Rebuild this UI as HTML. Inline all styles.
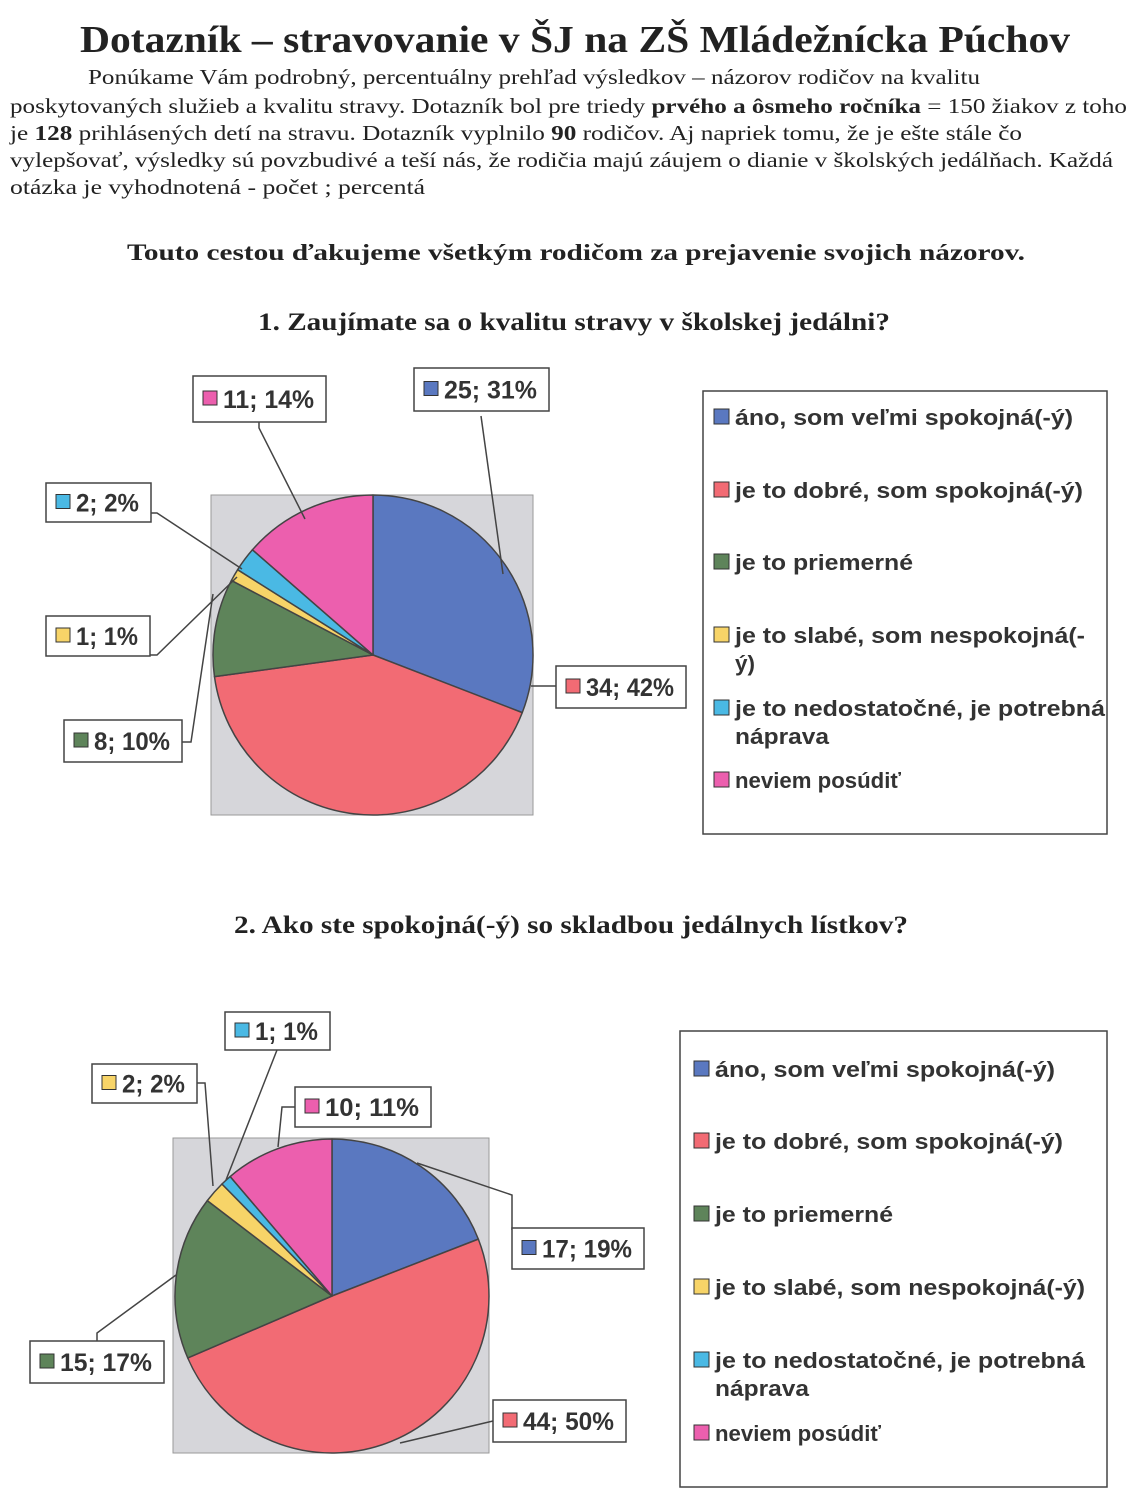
<!DOCTYPE html>
<html><head><meta charset="utf-8"><style>
html,body{margin:0;padding:0;background:#fff}
svg{display:block}
.ser{font-family:"Liberation Serif",serif;fill:#222}
.san{font-family:"Liberation Sans",sans-serif;font-weight:bold;fill:#333}
</style></head><body>
<svg id="s" width="1136" height="1504" viewBox="0 0 1136 1504" xmlns="http://www.w3.org/2000/svg">
<rect width="1136" height="1504" fill="#fff"/>
<text class="ser" x="80" y="52" font-size="38" font-weight="bold" textLength="990" lengthAdjust="spacingAndGlyphs">Dotazník – stravovanie v ŠJ na ZŠ Mládežnícka Púchov</text>
<g class="ser" font-size="21">
<text x="88" y="84" textLength="892" lengthAdjust="spacingAndGlyphs">Ponúkame Vám podrobný, percentuálny prehľad výsledkov – názorov rodičov na kvalitu</text>
<text x="10" y="113" textLength="1117" lengthAdjust="spacingAndGlyphs">poskytovaných služieb a kvalitu stravy. Dotazník bol pre triedy <tspan font-weight="bold">prvého a ôsmeho ročníka</tspan> = 150 žiakov z toho</text>
<text x="10" y="140" textLength="1012" lengthAdjust="spacingAndGlyphs">je <tspan font-weight="bold">128</tspan> prihlásených detí na stravu. Dotazník vyplnilo <tspan font-weight="bold">90</tspan> rodičov. Aj napriek tomu, že je ešte stále čo</text>
<text x="10" y="167" textLength="1103" lengthAdjust="spacingAndGlyphs">vylepšovať, výsledky sú povzbudivé a teší nás, že rodičia majú záujem o dianie v školských jedálňach. Každá</text>
<text x="10" y="194" textLength="415" lengthAdjust="spacingAndGlyphs">otázka je vyhodnotená -  počet ; percentá</text>
</g>
<text class="ser" x="127" y="260" font-size="23" font-weight="bold" textLength="898" lengthAdjust="spacingAndGlyphs">Touto cestou ďakujeme všetkým rodičom za prejavenie svojich názorov.</text>
<text class="ser" x="258" y="330" font-size="25" font-weight="bold" textLength="632" lengthAdjust="spacingAndGlyphs">1. Zaujímate sa o kvalitu stravy v školskej jedálni?</text>
<text class="ser" x="234" y="933" font-size="25" font-weight="bold" textLength="674" lengthAdjust="spacingAndGlyphs">2. Ako ste spokojná(-ý) so skladbou jedálnych lístkov?</text>
<g id="g"></g>
</svg>
<script>
var NS="http://www.w3.org/2000/svg",g=document.getElementById('g');
function el(t,a,txt){var e=document.createElementNS(NS,t);for(var k in a)e.setAttribute(k,a[k]);if(txt!=null)e.textContent=txt;g.appendChild(e);return e;}
var C=['#5a78c0','#f26b74','#5e845a','#f7d468','#4ab9e4','#ec5fae'];
function pie(cx,cy,r,vals){var tot=vals.reduce(function(a,b){return a+b},0),a=-Math.PI/2;
vals.forEach(function(v,i){var b=a+v/tot*2*Math.PI;var x1=cx+r*Math.cos(a),y1=cy+r*Math.sin(a),x2=cx+r*Math.cos(b),y2=cy+r*Math.sin(b);
el('path',{d:'M'+cx+','+cy+'L'+x1+','+y1+'A'+r+','+r+' 0 '+((b-a)>Math.PI?1:0)+' 1 '+x2+','+y2+'Z',fill:C[i],stroke:'#444','stroke-width':1.5,'stroke-linejoin':'round'});a=b;});}
function lab(x,y,w,h,ci,t){el('rect',{x:x,y:y,width:w,height:h,fill:'#fff',stroke:'#444','stroke-width':1.5});
el('rect',{x:x+10,y:y+h/2-8,width:14,height:14,fill:C[ci],stroke:'#333','stroke-width':1});
var tt=el('text',{x:x+30,y:y+h/2+9,'class':'san','font-size':25,textLength:w-42,lengthAdjust:'spacingAndGlyphs'},t);}
function line(p){el('polyline',{points:p,fill:'none',stroke:'#444','stroke-width':1.5});}
function legend(x,y,w,h,sx,items){el('rect',{x:x,y:y,width:w,height:h,fill:'#fff',stroke:'#444','stroke-width':1.5});
items.forEach(function(it,i){var yy=it[0];el('rect',{x:sx,y:yy-16,width:15,height:15,fill:C[i],stroke:'#333','stroke-width':1});
it[1].forEach(function(s,j){el('text',{x:sx+21,y:yy+j*28,'class':'san','font-size':22,textLength:s[1],lengthAdjust:'spacingAndGlyphs'},s[0]);});});}
// chart 1
el('rect',{x:211,y:495,width:322,height:320,fill:'#d6d6da',stroke:'#999','stroke-width':1});
pie(373,655,160,[25,34,8,1,2,11]);
line('259,422 259,428 305,519');line('481,416 503,574');line('151,513 157,513 242,569');line('150,655 157,655 237,577');line('182,742 191,742 213,594');line('556,686 531,686');
lab(193,376,133,46,5,'11; 14%');lab(414,368,135,43,0,'25; 31%');lab(46,483,105,39,4,'2; 2%');lab(46,616,104,40,3,'1; 1%');lab(64,720,118,42,2,'8; 10%');lab(556,666,130,42,1,'34; 42%');
legend(703,391,404,443,714,[[425,[['áno, som veľmi spokojná(-ý)',338]]],[498,[['je to dobré, som spokojná(-ý)',348]]],[570,[['je to priemerné',178]]],[643,[['je to slabé, som nespokojná(-',350],['ý)',20]]],[716,[['je to nedostatočné, je potrebná',370],['náprava',94]]],[788,[['neviem posúdiť',166]]]]);
// chart 2
el('rect',{x:173,y:1138,width:316,height:315,fill:'#d6d6da',stroke:'#999','stroke-width':1});
pie(332,1296,157,[17,44,15,2,1,10]);
line('417,1163 512,1195 512,1230');line('493,1421 400,1443');line('97,1341 97,1333 176,1275');line('197,1083 205,1083 213,1186');line('277,1050 226,1180');line('295,1107 282,1107 278,1147');
lab(225,1012,105,38,4,'1; 1%');lab(92,1064,105,39,3,'2; 2%');lab(295,1087,136,40,5,'10; 11%');lab(512,1228,132,41,0,'17; 19%');lab(30,1341,134,42,2,'15; 17%');lab(493,1400,133,42,1,'44; 50%');
legend(680,1031,427,456,694,[[1077,[['áno, som veľmi spokojná(-ý)',340]]],[1149,[['je to dobré, som spokojná(-ý)',348]]],[1222,[['je to priemerné',178]]],[1295,[['je to slabé, som nespokojná(-ý)',370]]],[1368,[['je to nedostatočné, je potrebná',370],['náprava',94]]],[1441,[['neviem posúdiť',166]]]]);
</script>
</body></html>
